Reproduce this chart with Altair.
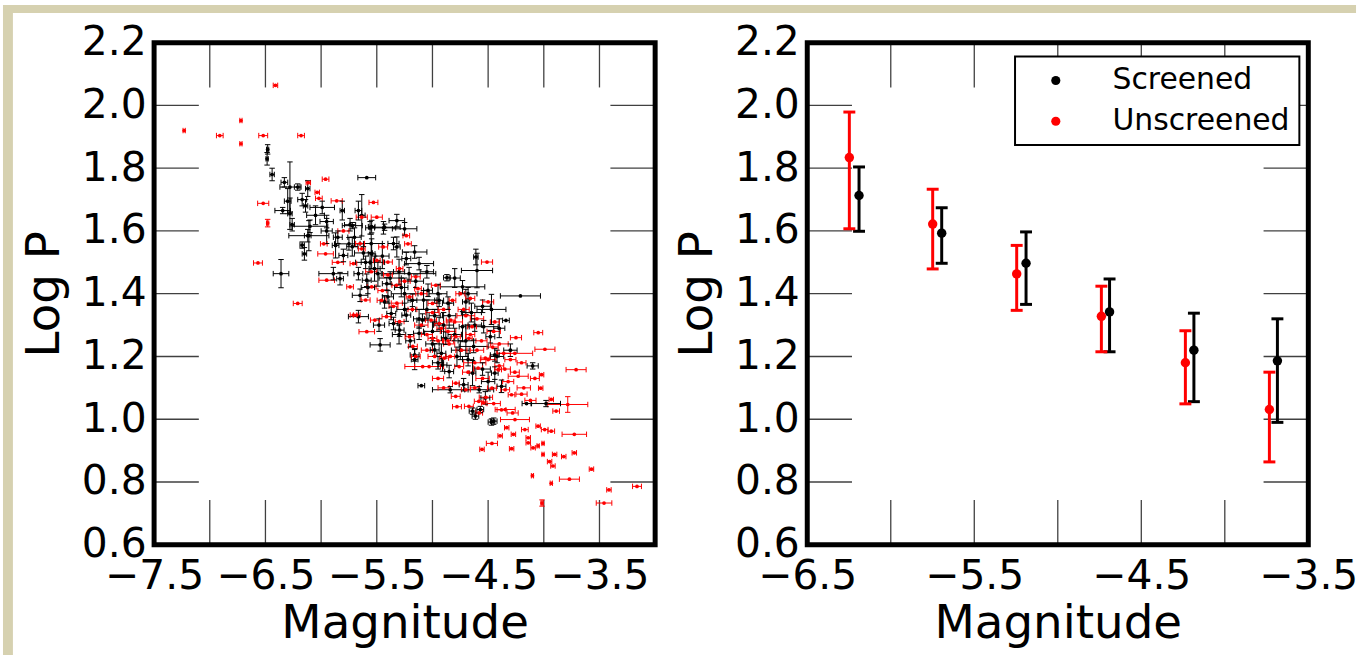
import altair as alt
import pandas as pd

# ---------------- left panel: individual stars ----------------
# Screened (black): magnitude, log P, magnitude error, log P error
scr_mag = [-6.48, -6.485, -6.44, -6.33, -6.28, -6.21, -6.12, -6.30, -6.17, -6.345, -6.28, -6.26,
           -6.10, -5.99, -6.17, -6.11, -5.81, -5.665, -5.59, -5.74, -5.56, -5.44, -6.14, -5.635,
           -5.72, -5.546, -5.43, -5.32, -5.25, -6.12, -5.87, -5.75, -5.546, -5.32, -5.16, -6.15,
           -5.80, -5.56, -5.235, -5.12, -5.89, -5.665, -5.49, -5.21, -4.87, -4.60, -4.61, -5.83,
           -5.59, -5.41, -5.04, -4.73, -5.65, -5.43, -5.18, -4.94, -4.70, -4.47, -4.21, -5.665,
           -5.37, -5.235, -5.09, -4.94, -4.73, -4.54, -4.34, -5.295, -5.12, -4.88, -4.48, -4.10,
           -4.44, -4.63, -4.44, -4.64, -4.85, -4.91, -4.84, -4.58, -4.38, -4.525, -5.10, -4.64,
           -4.57, -4.45, -3.98, -4.155, -4.47, -5.16, -4.98, -5.35, -5.47, -5.16, -6.36, -4.614,
           -5.05, -4.85, -5.00, -4.78, -5.25, -5.45, -4.95, -4.70, -5.55, -5.95, -4.65, -5.30,
           -5.70, -5.62, -5.52, -5.38, -5.28, -5.15, -5.08, -4.98, -4.90, -4.80, -4.75, -4.68,
           -4.55, -4.50, -5.40, -5.25, -5.12, -5.00, -4.92, -5.60, -5.72, -5.95, -6.05, -5.85,
           -5.35, -5.05, -4.80, -4.68, -4.62, -4.40, -4.30, -4.55, -5.48, -5.30, -4.72, -4.95,
           -5.20, -5.58, -4.86, -4.42]
scr_logp = [1.86, 1.83, 1.78, 1.755, 1.74, 1.74, 1.735, 1.695, 1.70, 1.665, 1.655, 1.62,
            1.615, 1.675, 1.555, 1.585, 1.665, 1.665, 1.77, 1.62, 1.61, 1.61, 1.68, 1.65,
            1.617, 1.614, 1.612, 1.633, 1.607, 1.585, 1.554, 1.559, 1.527, 1.549, 1.533, 1.527,
            1.522, 1.50, 1.512, 1.496, 1.464, 1.464, 1.464, 1.464, 1.451, 1.474, 1.517, 1.448,
            1.443, 1.432, 1.411, 1.422, 1.395, 1.374, 1.379, 1.379, 1.374, 1.350, 1.393, 1.327,
            1.337, 1.332, 1.316, 1.305, 1.295, 1.295, 1.315, 1.284, 1.274, 1.258, 1.263, 1.170,
            1.205, 1.232, 1.147, 1.147, 1.152, 1.173, 1.094, 1.094, 1.105, 1.068, 1.107, 1.026,
            1.031, 0.994, 1.050, 1.050, 0.991, 1.205, 1.221, 1.305, 1.237, 1.19, 1.464, 1.010,
            1.35, 1.33, 1.28, 1.20, 1.40, 1.52, 1.40, 1.25, 1.56, 1.60, 1.34, 1.47,
            1.58, 1.53, 1.48, 1.45, 1.42, 1.44, 1.38, 1.33, 1.30, 1.27, 1.22, 1.19,
            1.16, 1.12, 1.39, 1.35, 1.32, 1.24, 1.21, 1.50, 1.55, 1.63, 1.65, 1.58,
            1.56, 1.47, 1.45, 1.40, 1.30, 1.29, 1.22, 1.36, 1.30, 1.27, 1.11, 1.18,
            1.25, 1.42, 1.37, 1.20]
scr_mag_err = [0.01, 0.01, 0.02, 0.03, 0.09, 0.03, 0.02, 0.03, 0.04, 0.07, 0.02, 0.02,
               0.16, 0.11, 0.02, 0.18, 0.02, 0.03, 0.08, 0.05, 0.04, 0.11, 0.02, 0.03,
               0.09, 0.03, 0.14, 0.07, 0.11, 0.03, 0.03, 0.13, 0.03, 0.03, 0.11, 0.02,
               0.04, 0.13, 0.04, 0.13, 0.13, 0.04, 0.03, 0.24, 0.03, 0.14, 0.02, 0.03,
               0.04, 0.04, 0.04, 0.20, 0.07, 0.04, 0.04, 0.04, 0.03, 0.13, 0.18, 0.09,
               0.04, 0.04, 0.05, 0.04, 0.03, 0.13, 0.03, 0.04, 0.05, 0.04, 0.04, 0.05,
               0.04, 0.13, 0.03, 0.03, 0.04, 0.04, 0.16, 0.13, 0.04, 0.04, 0.03, 0.03,
               0.03, 0.03, 0.13, 0.04, 0.03, 0.04, 0.04, 0.04, 0.09, 0.03, 0.07, 0.03,
               0.10, 0.06, 0.08, 0.10, 0.12, 0.06, 0.08, 0.07, 0.10, 0.05, 0.09, 0.05,
               0.06, 0.08, 0.05, 0.10, 0.06, 0.07, 0.12, 0.05, 0.09, 0.06, 0.08, 0.05,
               0.07, 0.06, 0.05, 0.07, 0.05, 0.06, 0.04, 0.04, 0.05, 0.06, 0.08, 0.04,
               0.05, 0.06, 0.05, 0.08, 0.06, 0.05, 0.06, 0.07, 0.05, 0.06, 0.04, 0.05,
               0.04, 0.06, 0.05, 0.06]
scr_logp_err = [0.015, 0.02, 0.02, 0.015, 0.08, 0.01, 0.025, 0.04, 0.02, 0.01, 0.05, 0.02,
                0.02, 0.02, 0.01, 0.048, 0.03, 0.03, 0.005, 0.02, 0.02, 0.02, 0.02, 0.066,
                0.01, 0.02, 0.01, 0.02, 0.02, 0.02, 0.04, 0.02, 0.048, 0.032, 0.02, 0.02,
                0.02, 0.032, 0.02, 0.02, 0.02, 0.02, 0.04, 0.02, 0.01, 0.055, 0.025, 0.02,
                0.02, 0.02, 0.02, 0.02, 0.02, 0.02, 0.02, 0.02, 0.04, 0.048, 0.005, 0.02,
                0.02, 0.02, 0.02, 0.02, 0.048, 0.02, 0.008, 0.02, 0.02, 0.02, 0.02, 0.01,
                0.02, 0.02, 0.02, 0.04, 0.02, 0.02, 0.01, 0.01, 0.02, 0.02, 0.005, 0.01,
                0.01, 0.01, 0.01, 0.005, 0.01, 0.02, 0.02, 0.02, 0.02, 0.032, 0.045, 0.01,
                0.03, 0.04, 0.03, 0.03, 0.05, 0.04, 0.03, 0.05, 0.03, 0.04, 0.03, 0.04,
                0.03, 0.02, 0.04, 0.02, 0.03, 0.02, 0.03, 0.02, 0.04, 0.02, 0.03, 0.02,
                0.02, 0.03, 0.02, 0.02, 0.03, 0.02, 0.03, 0.02, 0.03, 0.02, 0.03, 0.02,
                0.02, 0.02, 0.03, 0.02, 0.02, 0.03, 0.02, 0.02, 0.02, 0.03, 0.02, 0.02,
                0.02, 0.02, 0.02, 0.02]

# Unscreened (red): magnitude, log P, magnitude error
uns_mag = [-6.41, -7.23, -6.72, -6.91, -6.52, -6.18, -6.72, -6.52, -6.48, -6.115, -5.96, -6.035,
           -6.02, -5.86, -5.53, -6.21, -6.567, -5.635, -5.50, -5.235, -5.976, -5.635, -5.443, -5.22,
           -5.96, -5.71, -5.50, -5.40, -5.295, -5.15, -4.51, -5.95, -5.74, -5.546, -5.324, -5.13,
           -4.97, -5.457, -5.206, -5.00, -4.82, -4.66, -4.50, -5.68, -5.517, -5.295, -5.013, -4.836,
           -4.644, -5.59, -5.206, -5.00, -4.79, -4.673, -4.05, -3.99, -3.71, -4.02, -4.26, -4.525,
           -4.41, -4.23, -4.59, -4.76, -5.03, -4.79, -4.70, -4.466, -4.347, -4.29, -4.584, -4.347,
           -3.785, -3.889, -4.259, -4.17, -3.992, -3.933, -3.726, -4.392, -4.273, -4.14, -4.673, -4.791,
           -5.176, -4.895, -5.088, -5.413, -4.939, -4.028, -3.933, -4.54, -4.333, -4.051, -4.14, -4.466,
           -4.555, -4.289, -4.051, -4.007, -4.096, -4.007, -3.903, -3.821, -3.726, -3.948, -3.918, -3.572,
           -4.102, -3.77, -3.933, -3.415, -3.163, -4.016, -3.459, -5.709, -4.60, -4.85, -4.70, -4.45,
           -4.90, -5.10, -4.40, -4.55, -4.95, -4.30, -4.75, -5.35, -4.62, -4.45, -4.20, -5.05,
           -4.35, -4.86,
           -5.10, -5.00, -4.92, -4.86, -4.80, -4.74, -4.66, -4.60, -4.56, -4.50, -4.46, -4.40,
           -4.36, -4.32, -4.26, -4.18, -4.12, -4.08, -4.68, -4.62, -4.52, -4.90, -4.98, -5.05,
           -5.18, -5.25, -5.40, -5.55, -5.65, -5.80, -5.45, -5.32, -4.84, -4.72, -4.44, -4.25,
           -4.38, -4.28, -4.20, -4.58, -4.95, -5.15, -4.78, -5.60, -5.85]
uns_logp = [2.064, 1.920, 1.952, 1.904, 1.904, 1.904, 1.878, 1.688, 1.625, 1.754, 1.765, 1.723,
            1.704, 1.696, 1.691, 1.369, 1.498, 1.644, 1.644, 1.585, 1.559, 1.543, 1.549, 1.559,
            1.527, 1.496, 1.506, 1.501, 1.480, 1.454, 1.501, 1.443, 1.422, 1.422, 1.427, 1.416,
            1.427, 1.379, 1.390, 1.369, 1.379, 1.385, 1.374, 1.332, 1.316, 1.311, 1.316, 1.316,
            1.295, 1.279, 1.263, 1.258, 1.263, 1.258, 1.276, 1.223, 1.158, 1.142, 1.210, 1.195,
            1.158, 1.137, 1.163, 1.168, 1.168, 1.115, 1.094, 1.099, 1.094, 1.078, 1.057, 1.031,
            1.047, 1.026, 0.999, 0.967, 0.967, 0.962, 0.952, 0.947, 0.952, 0.941, 1.041, 1.073,
            1.232, 1.195, 1.168, 1.327, 1.305, 1.099, 1.063, 1.052, 0.973, 0.978, 0.925, 0.923,
            0.904, 0.906, 0.915, 0.923, 0.909, 0.888, 0.888, 0.881, 0.893, 0.865, 0.851, 0.841,
            0.820, 0.809, 0.796, 0.775, 0.786, 0.733, 0.733, 1.332, 1.22, 1.24, 1.33, 1.28,
            1.35, 1.30, 1.24, 1.13, 1.13, 1.19, 1.40, 1.36, 1.18, 1.05, 1.08, 1.22,
            1.16, 1.28,
            1.40, 1.34, 1.29, 1.25, 1.31, 1.22, 1.27, 1.32, 1.25, 1.19, 1.23, 1.17,
            1.21, 1.12, 1.15, 1.10, 1.06, 1.13, 1.15, 1.10, 1.07, 1.10, 1.20, 1.27,
            1.35, 1.44, 1.46, 1.47, 1.56, 1.60, 1.41, 1.37, 1.20, 1.35, 1.31, 1.26,
            1.03, 1.02, 1.18, 1.02, 1.25, 1.20, 1.04, 1.38, 1.50]
uns_mag_err = [0.02, 0.01, 0.01, 0.03, 0.04, 0.03, 0.01, 0.05, 0.01, 0.02, 0.03, 0.02,
               0.03, 0.05, 0.04, 0.04, 0.04, 0.05, 0.05, 0.03, 0.03, 0.03, 0.04, 0.03,
               0.07, 0.03, 0.03, 0.04, 0.03, 0.04, 0.05, 0.07, 0.03, 0.04, 0.04, 0.03,
               0.04, 0.04, 0.03, 0.04, 0.03, 0.04, 0.05, 0.03, 0.04, 0.04, 0.05, 0.04,
               0.04, 0.07, 0.04, 0.04, 0.04, 0.03, 0.04, 0.09, 0.09, 0.02, 0.16, 0.04,
               0.03, 0.09, 0.04, 0.04, 0.13, 0.03, 0.04, 0.04, 0.04, 0.03, 0.04, 0.09,
               0.18, 0.03, 0.13, 0.03, 0.03, 0.03, 0.11, 0.02, 0.02, 0.02, 0.04, 0.04,
               0.04, 0.04, 0.16, 0.04, 0.04, 0.02, 0.02, 0.02, 0.02, 0.02, 0.02, 0.05,
               0.02, 0.02, 0.01, 0.01, 0.02, 0.01, 0.02, 0.02, 0.02, 0.02, 0.02, 0.02,
               0.01, 0.09, 0.01, 0.02, 0.04, 0.01, 0.07, 0.03, 0.06, 0.05, 0.08, 0.06,
               0.05, 0.06, 0.08, 0.06, 0.05, 0.05, 0.04, 0.04, 0.10, 0.06, 0.05, 0.05,
               0.05, 0.07,
               0.05, 0.06, 0.04, 0.05, 0.07, 0.05, 0.04, 0.06, 0.05, 0.07, 0.05, 0.04,
               0.06, 0.05, 0.04, 0.06, 0.05, 0.04, 0.05, 0.04, 0.06, 0.05, 0.06, 0.05,
               0.04, 0.05, 0.04, 0.05, 0.04, 0.05, 0.04, 0.05, 0.04, 0.05, 0.04, 0.05,
               0.04, 0.05, 0.04, 0.03, 0.05, 0.04, 0.04, 0.04, 0.05]
# the few red stars that also show a log P error bar
uns_yerr_mag = [-3.785, -4.016, -6.48]
uns_yerr_logp = [1.047, 0.733, 1.625]
uns_yerr = [0.025, 0.01, 0.012]

# ---------------- right panel: binned means ----------------
bin_scr_mag = [-6.19, -5.695, -5.19, -4.69, -4.185, -3.685]
bin_scr_logp = [1.713, 1.593, 1.497, 1.342, 1.220, 1.186]
bin_scr_lo = [1.599, 1.497, 1.366, 1.215, 1.056, 0.990]
bin_scr_hi = [1.804, 1.674, 1.597, 1.447, 1.338, 1.320]
bin_uns_mag = [-6.248, -5.749, -5.246, -4.739, -4.236, -3.733]
bin_uns_logp = [1.834, 1.622, 1.463, 1.328, 1.180, 1.031]
bin_uns_lo = [1.607, 1.479, 1.347, 1.215, 1.049, 0.864]
bin_uns_hi = [1.979, 1.733, 1.554, 1.424, 1.282, 1.150]

groups = ["Screened", "Unscreened"]
colors = ["black", "red"]

left_x_domain = [-7.5, -3.0]
right_x_domain = [-6.5, -3.5]
y_domain = [0.6, 2.2]
left_x_labels = [-7.5, -6.5, -5.5, -4.5, -3.5]
right_x_labels = [-6.5, -5.5, -4.5, -3.5]
y_labels = [0.6, 0.8, 1.0, 1.2, 1.4, 1.6, 1.8, 2.0, 2.2]
left_x_ticks = [-7.0, -6.5, -6.0, -5.5, -5.0, -4.5, -4.0, -3.5]
right_x_ticks = [-6.0, -5.5, -5.0, -4.5, -4.0]
y_ticks = [0.8, 1.0, 1.2, 1.4, 1.6, 1.8, 2.0]

W, H = 504, 505
TICK = 45
FONT = "DejaVu Sans"
BEIGE = "#d6d1b0"

# ---------------- data frames ----------------
scr = pd.DataFrame({"mag": scr_mag, "logp": scr_logp, "me": scr_mag_err, "pe": scr_logp_err})
scr["group"] = "Screened"
uns = pd.DataFrame({"mag": uns_mag, "logp": uns_logp, "me": uns_mag_err})
uns["group"] = "Unscreened"
stars = pd.concat([scr[["mag", "logp", "me", "group"]], uns], ignore_index=True)
stars["xlo"] = stars["mag"] - stars["me"]
stars["xhi"] = stars["mag"] + stars["me"]
xcaps = pd.concat([
    stars[["xlo", "logp", "group"]].rename(columns={"xlo": "cx"}),
    stars[["xhi", "logp", "group"]].rename(columns={"xhi": "cx"}),
]).sort_values("group", kind="stable")

scr_y = scr[scr["pe"] >= 0.01][["mag", "logp", "pe", "group"]]
uns_y = pd.DataFrame({"mag": uns_yerr_mag, "logp": uns_yerr_logp, "pe": uns_yerr})
uns_y["group"] = "Unscreened"
ystars = pd.concat([scr_y, uns_y], ignore_index=True)
ystars["ylo"] = ystars["logp"] - ystars["pe"]
ystars["yhi"] = ystars["logp"] + ystars["pe"]
ycaps = pd.concat([
    ystars[["mag", "ylo", "group"]].rename(columns={"ylo": "cy"}),
    ystars[["mag", "yhi", "group"]].rename(columns={"yhi": "cy"}),
]).sort_values("group", kind="stable")

bins = pd.concat([
    pd.DataFrame({"mag": bin_scr_mag, "logp": bin_scr_logp, "lo": bin_scr_lo, "hi": bin_scr_hi,
                  "group": "Screened"}),
    pd.DataFrame({"mag": bin_uns_mag, "logp": bin_uns_logp, "lo": bin_uns_lo, "hi": bin_uns_hi,
                  "group": "Unscreened"}),
], ignore_index=True)
bin_caps = pd.concat([
    bins[["mag", "lo", "group"]].rename(columns={"lo": "cy"}),
    bins[["mag", "hi", "group"]].rename(columns={"hi": "cy"}),
])

# ---------------- helpers ----------------
def xenc(field, domain, labels):
    return alt.X(field, type="quantitative", title="Magnitude",
                 scale=alt.Scale(domain=domain, nice=False, zero=False),
                 axis=alt.Axis(values=labels, format=".1f"))

def yenc(field):
    return alt.Y(field, type="quantitative", title="Log P",
                 scale=alt.Scale(domain=y_domain, nice=False, zero=False),
                 axis=alt.Axis(values=y_labels, format=".1f"))

cscale = alt.Scale(domain=groups, range=colors)

def cenc(legend=None):
    if legend is None:
        return alt.Color("group:N", scale=cscale, legend=None)
    return alt.Color("group:N", scale=cscale, legend=legend)

def tick_layers(xdomain, xlabels, xticks):
    xt = pd.DataFrame({"t": xticks})
    yt = pd.DataFrame({"t": y_ticks})
    style = dict(color="black", strokeWidth=1.3, opacity=0.75)
    return [
        alt.Chart(xt).mark_rule(**style).encode(x=xenc("t", xdomain, xlabels),
                                                y=alt.value(0), y2=alt.value(TICK)),
        alt.Chart(xt).mark_rule(**style).encode(x=xenc("t", xdomain, xlabels),
                                                y=alt.value(H - TICK), y2=alt.value(H)),
        alt.Chart(yt).mark_rule(**style).encode(y=yenc("t"), x=alt.value(0), x2=alt.value(TICK)),
        alt.Chart(yt).mark_rule(**style).encode(y=yenc("t"), x=alt.value(W - TICK), x2=alt.value(W)),
    ]

one = pd.DataFrame({"k": [0]})

# page frame (beige border of the slide)
frame = [
    alt.Chart(one).mark_rect(color=BEIGE).encode(
        x=alt.value(-152), x2=alt.value(-142), y=alt.value(-38), y2=alt.value(620)),
    alt.Chart(one).mark_rect(color=BEIGE).encode(
        x=alt.value(-152), x2=alt.value(1209), y=alt.value(-38), y2=alt.value(-30)),
]

# ---------------- left panel ----------------
ld, ll = left_x_domain, left_x_labels
left_layers = frame + tick_layers(ld, ll, left_x_ticks) + [
    alt.Chart(stars).mark_rule(strokeWidth=1).encode(
        x=xenc("xlo", ld, ll), x2="xhi", y=yenc("logp"), color=cenc()),
    alt.Chart(ystars).mark_rule(strokeWidth=1).encode(
        x=xenc("mag", ld, ll), y=yenc("ylo"), y2="yhi", color=cenc()),
    alt.Chart(xcaps).mark_point(shape="M0,-1L0,1", filled=False, strokeWidth=1, size=30, opacity=1).encode(
        x=xenc("cx", ld, ll), y=yenc("logp"), color=cenc()),
    alt.Chart(ycaps).mark_point(shape="M-1,0L1,0", filled=False, strokeWidth=1, size=30, opacity=1).encode(
        x=xenc("mag", ld, ll), y=yenc("cy"), color=cenc()),
    alt.Chart(stars).mark_circle(size=14, opacity=1).encode(
        x=xenc("mag", ld, ll), y=yenc("logp"), color=cenc()),
]
left = alt.layer(*left_layers).properties(width=W, height=H)

# ---------------- right panel ----------------
rd, rl = right_x_domain, right_x_labels
legend = alt.Legend(
    title=None, orient="none", legendX=209, legendY=14,
    fillColor="white", strokeColor="black", padding=9, cornerRadius=0,
    symbolType="circle", symbolSize=85, symbolStrokeWidth=0, symbolOffset=17,
    labelFont=FONT, labelFontSize=30, labelColor="black", labelOffset=42, labelLimit=400,
    rowPadding=11,
)
right_layers = tick_layers(rd, rl, right_x_ticks) + [
    alt.Chart(bins).mark_circle(size=90, opacity=1).encode(
        x=xenc("mag", rd, rl), y=yenc("logp"), color=cenc(legend)),
    alt.Chart(bins).mark_rule(strokeWidth=3).encode(
        x=xenc("mag", rd, rl), y=yenc("lo"), y2="hi", color=cenc()),
    alt.Chart(bin_caps).mark_point(shape="M-1,0L1,0", filled=False, strokeWidth=3, size=144, opacity=1).encode(
        x=xenc("mag", rd, rl), y=yenc("cy"), color=cenc()),
]
right = alt.layer(*right_layers).properties(width=W, height=H)

chart = alt.hconcat(left, right, spacing=153, bounds="flush").resolve_scale(
    color="independent"
).properties(padding=0, background="white").configure_view(
    stroke="black", strokeWidth=5
).configure_axis(
    grid=False, ticks=False, domain=False,
    labelFont=FONT, labelFontSize=41, labelColor="black",
    labelFlush=False, labelOverlap=False,
    titleFont=FONT, titleFontSize=47, titleFontWeight="normal", titleColor="black",
).configure_axisX(
    labelPadding=12, titlePadding=4,
).configure_axisY(
    labelPadding=8, titlePadding=13,
).configure_legend(strokeWidth=2)

chart.save("out.html", embed_options={"renderer": "svg", "actions": False})
